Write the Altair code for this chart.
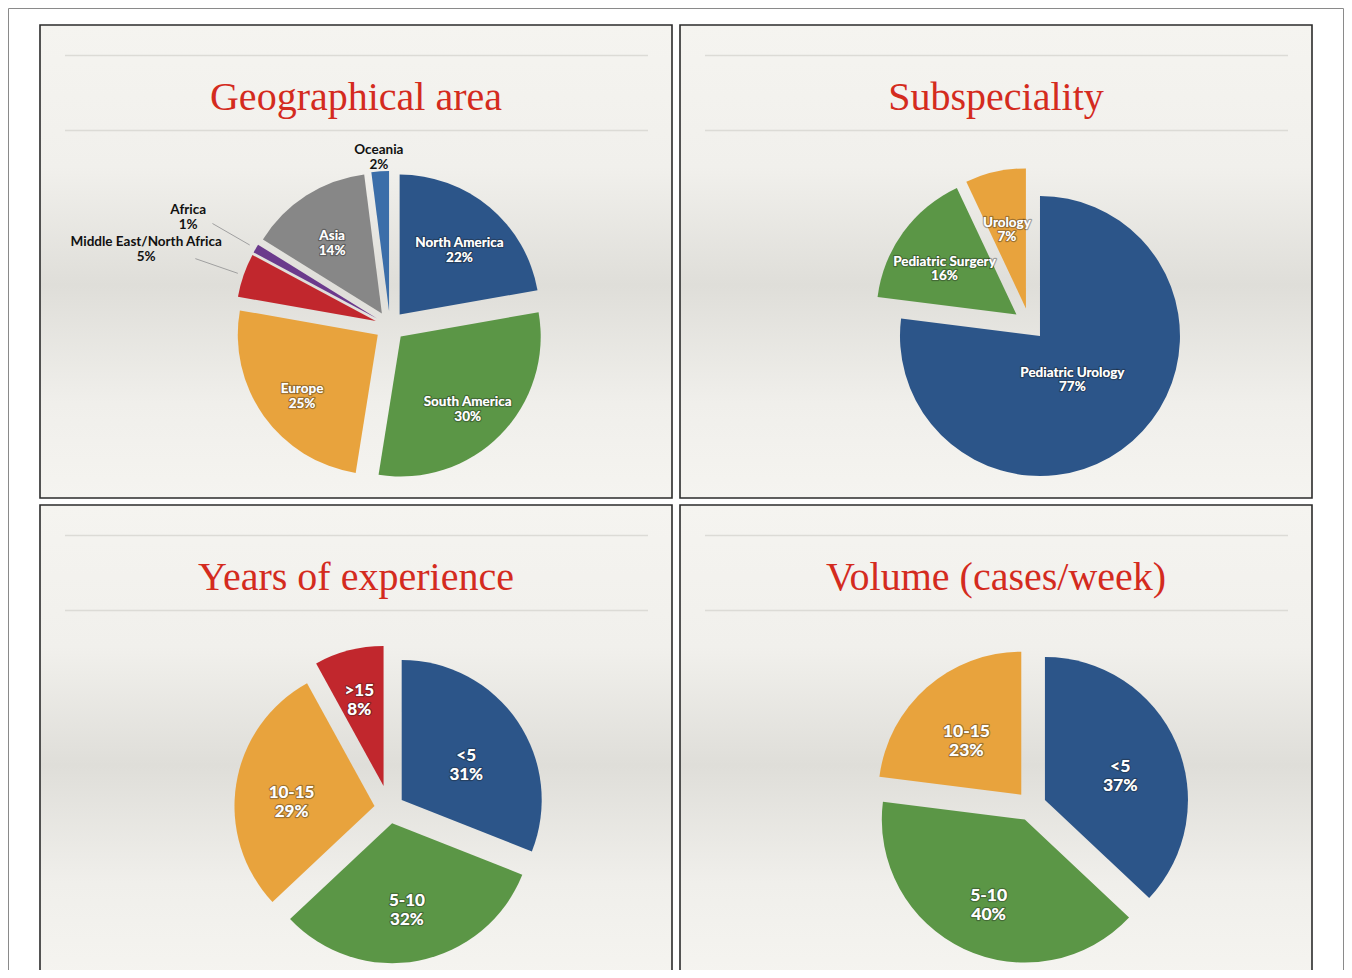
import math
import altair as alt
import pandas as pd

# ---------------- data ----------------
geo_cats = ["North America", "South America", "Europe", "Middle East/North Africa", "Africa", "Asia", "Oceania"]
geo_vals = [22, 30, 25, 5, 1, 14, 2]

sub_cats = ["Pediatric Urology", "Pediatric Surgery", "Urology"]
sub_vals = [77, 16, 7]

yrs_cats = ["<5", "5-10", "10-15", ">15"]
yrs_vals = [31, 32, 29, 8]

vol_cats = ["<5", "5-10", "10-15"]
vol_vals = [37, 40, 23]

titles = ["Geographical area", "Subspeciality", "Years of experience", "Volume (cases/week)"]

# ---------------- styles ----------------
BLUE, GREEN, ORANGE, RED = "#2c5589", "#5b9646", "#e8a33d", "#c1272d"
PURPLE, GRAY, LBLUE = "#6b3a8c", "#878787", "#3b6ea9"
TITLE_RED = "#d42b1e"

W, H = 1336, 962
PW, PH = 632, 473
panel_pos = [(32, 17), (672, 17), (32, 497), (672, 497)]

pies = [
    dict(cats=geo_cats, vals=geo_vals, colors=[BLUE, GREEN, ORANGE, RED, PURPLE, GRAY, LBLUE],
         cx=382, cy=318, r=140, ex=[15] * 7, lr=[108, 109, 108, 258, 233, 107, 176],
         tc=["white", "white", "white", "#111111", "#111111", "white", "#111111"],
         r1=[None, None, None, 161, 162, None, None], r2=[None, None, None, 206, 205, None, None],
         fs=13.5, lh=15),
    dict(cats=sub_cats, vals=sub_vals, colors=[BLUE, GREEN, ORANGE],
         cx=1021.4, cy=316, r=140, ex=[16, 16, 16], lr=[65, 105, 103],
         tc=["white"] * 3, r1=[None] * 3, r2=[None] * 3, fs=13.5, lh=14),
    dict(cats=yrs_cats, vals=yrs_vals, colors=[BLUE, GREEN, ORANGE, RED],
         cx=381.3, cy=800.4, r=140, ex=[15, 15, 15, 23], lr=[93, 94, 99, 121],
         tc=["white"] * 4, r1=[None] * 4, r2=[None] * 4, fs=17, lh=19),
    dict(cats=vol_cats, vals=vol_vals, colors=[BLUE, GREEN, ORANGE],
         cx=1023.2, cy=798, r=143, ex=[15, 15, 15], lr=[97, 100, 98],
         tc=["white"] * 3, r1=[None] * 3, r2=[None] * 3, fs=17.5, lh=19),
]


def px(field):
    return alt.X(field, type="quantitative", scale=None, axis=None, stack=None)


def py(field):
    return alt.Y(field, type="quantitative", scale=None, axis=None, stack=None)


# ---------------- panels ----------------
panels_df = pd.DataFrame({
    "x0": [p[0] for p in panel_pos],
    "x1": [p[0] + PW for p in panel_pos],
    "y0": [p[1] for p in panel_pos],
    "y1": [p[1] + PH for p in panel_pos],
    "title": titles,
})
panels_df["tx"] = panels_df["x0"] + PW / 2
panels_df["ty"] = panels_df["y0"] + 84.5

grad = alt.Gradient(
    gradient="linear", x1=0, x2=0, y1=0, y2=1,
    stops=[
        alt.GradientStop(offset=0, color="#f5f4f0"),
        alt.GradientStop(offset=0.3, color="#f1f0ec"),
        alt.GradientStop(offset=0.55, color="#dfded9"),
        alt.GradientStop(offset=0.8, color="#f0efeb"),
        alt.GradientStop(offset=1, color="#f5f4f0"),
    ],
)

frame = alt.Chart(pd.DataFrame({"a": [0.5], "b": [W - 0.5], "c": [0.5], "d": [H + 20]})).mark_rect(
    fill="white", stroke="#8a8a8a", strokeWidth=1
).encode(x=px("a"), x2="b", y=py("c"), y2="d")

panel_rects = alt.Chart(panels_df).mark_rect(
    fill=grad, stroke="#2b2b2b", strokeWidth=1.6
).encode(x=px("x0"), x2="x1", y=py("y0"), y2="y1")

lines_rows = []
for (x0, y0) in panel_pos:
    for ry in (30.5, 105.5):
        lines_rows.append({"x0": x0 + 25, "x1": x0 + 608, "y": y0 + ry})
header_lines = alt.Chart(pd.DataFrame(lines_rows)).mark_rule(
    color="#dcdbd6", strokeWidth=1.5
).encode(x=px("x0"), x2="x1", y=py("y"))

title_text = alt.Chart(panels_df).mark_text(
    font="Liberation Serif", fontSize=40, color=TITLE_RED, align="center", baseline="alphabetic"
).encode(x=px("tx"), y=py("ty"), text="title:N")

layers = [frame, panel_rects, header_lines, title_text]

# ---------------- pies ----------------
for p in pies:
    n = len(p["cats"])
    df = pd.DataFrame({
        "cat": p["cats"], "v": p["vals"], "i": list(range(n)), "fill": p["colors"],
        "ex": p["ex"], "lr": p["lr"], "tc": p["tc"], "r1": p["r1"], "r2": p["r2"],
    })
    df["lab"] = [f"{c}\n{v}%" for c, v in zip(p["cats"], p["vals"])]
    cx, cy = p["cx"], p["cy"]
    base = (
        alt.Chart(df)
        .transform_joinaggregate(total="sum(v)")
        .transform_window(cum="sum(v)", sort=[alt.SortField("i")], frame=[None, 0])
        .transform_calculate(
            f0="(datum.cum - datum.v) / datum.total",
            f1="datum.cum / datum.total",
            mid="2 * PI * (datum.cum - datum.v / 2) / datum.total",
        )
        .transform_calculate(
            ax=f"{cx} + datum.ex * sin(datum.mid)",
            ay=f"{cy} - datum.ex * cos(datum.mid)",
            lx=f"{cx} + datum.lr * sin(datum.mid)",
            ly=f"{cy} - datum.lr * cos(datum.mid)",
        )
    )
    arcs = base.mark_arc(outerRadius=p["r"]).encode(
        theta=alt.Theta("f0:Q", scale=alt.Scale(domain=[0, 1], range=[0, 2 * math.pi])),
        theta2="f1:Q",
        x=px("ax"), y=py("ay"),
        fill=alt.Fill("fill:N", scale=None),
    )
    halo = base.transform_filter("datum.tc == 'white'").mark_text(
        font="Lato", fontWeight="bold", fontSize=p["fs"], lineBreak="\n", lineHeight=p["lh"],
        align="center", baseline="middle", fill="white", stroke="#1a1a1a", strokeWidth=2.6,
        strokeOpacity=0.35, strokeJoin="round",
    ).encode(x=px("lx"), y=py("ly"), text="lab:N")
    labels = base.mark_text(
        font="Lato", fontWeight="bold", fontSize=p["fs"], lineBreak="\n", lineHeight=p["lh"],
        align="center", baseline="middle",
    ).encode(x=px("lx"), y=py("ly"), text="lab:N", fill=alt.Fill("tc:N", scale=None))
    layers += [arcs, halo, labels]
    if any(v is not None for v in p["r1"]):
        leaders = base.transform_filter("isValid(datum.r1)").transform_calculate(
            l1x=f"{cx} + datum.r1 * sin(datum.mid)",
            l1y=f"{cy} - datum.r1 * cos(datum.mid)",
            l2x=f"{cx} + datum.r2 * sin(datum.mid)",
            l2y=f"{cy} - datum.r2 * cos(datum.mid)",
        ).mark_rule(color="#a0a0a0", strokeWidth=1).encode(
            x=px("l1x"), y=py("l1y"), x2="l2x:Q", y2="l2y:Q"
        )
        layers.append(leaders)

chart = alt.layer(*layers).properties(
    width=W, height=H, padding=0, autosize=alt.AutoSizeParams(type="none"), background="white"
).configure_view(stroke=None)

chart.save("out.html", embed_options={"renderer": "svg", "actions": False})
